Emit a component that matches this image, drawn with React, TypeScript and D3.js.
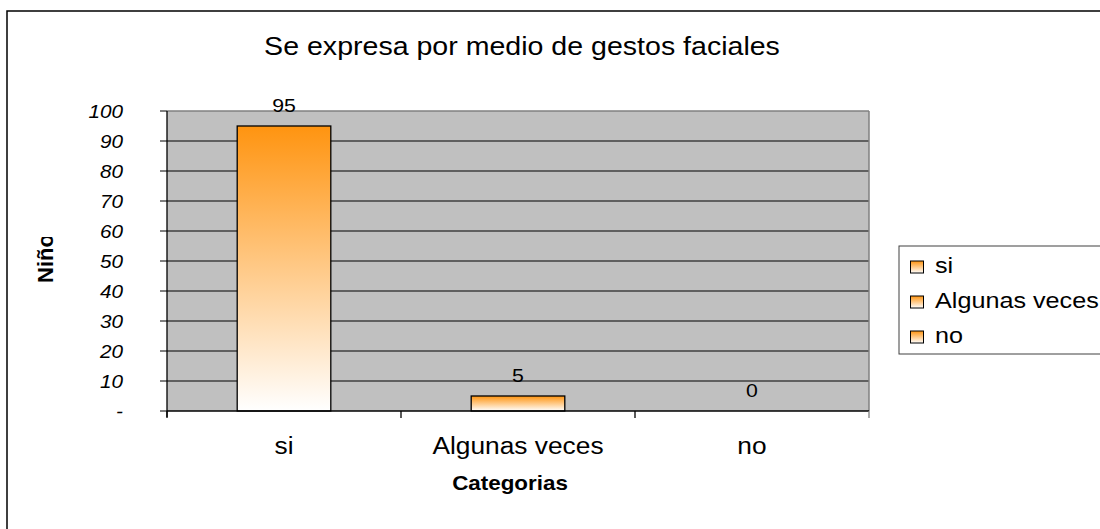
import React from "react";
import * as d3 from "d3";

const categories = ["si", "Algunas veces", "no"];
const values = [95, 5, 0];
const yTicks = [0, 10, 20, 30, 40, 50, 60, 70, 80, 90, 100];
const legendLabels = ["si", "Algunas veces", "no"];
const title = "Se expresa por medio de gestos faciales";
const xTitle = "Categorias";
const yTitle = "Niños";

const SX = 1.12;

function T(props: { x: number; y: number; anchor?: string; size: number; bold?: boolean; italic?: boolean; children: any }) {
  const { x, y, anchor = "start", size, bold, italic, children } = props;
  return (
    <text transform={`translate(${x},${y}) scale(${SX},1)`} textAnchor={anchor} fontSize={size}
      fontWeight={bold ? "bold" : "normal"} fontStyle={italic ? "italic" : "normal"} fill="#000">
      {children}
    </text>
  );
}

export default function App() {
  const W = 1100, H = 529;
  const left = 167, right = 869, top = 111, bottom = 411;
  const x = d3.scaleBand<string>().domain(categories).range([left, right]).paddingInner(0).paddingOuter(0);
  const y = d3.scaleLinear().domain([0, 100]).range([bottom, top]);
  const bw = x.bandwidth() * 0.4;
  const font = "'Liberation Sans', Arial, sans-serif";
  const fmt = (v: number) => (v === 0 ? "-" : String(v));
  return (
    <div style={{ position: "fixed", left: 0, top: 0, width: W, height: H, overflow: "hidden" }}>
      <style>{"html,body{margin:0;padding:0;overflow:hidden;}"}</style>
      <svg width={W} height={H} style={{ display: "block" }} fontFamily={font}>
        <defs>
          <linearGradient id="barg" x1="0" y1="0" x2="0" y2="1">
            <stop offset="0%" stopColor="#FF9410" />
            <stop offset="100%" stopColor="#FFFFFF" />
          </linearGradient>
          <clipPath id="ytclip">
            <rect x={0} y={237} width={100} height={100} />
          </clipPath>
        </defs>
        <rect x={0} y={0} width={W} height={H} fill="#fff" />
        <path d={`M${W + 5},11 H7 V${H + 5}`} fill="none" stroke="#000" strokeWidth={1.5} />
        <T x={522} y={55} anchor="middle" size={25.5}>{title}</T>
        {/* plot area */}
        <rect x={left} y={top} width={right - left} height={bottom - top} fill="#C0C0C0" />
        {yTicks.filter(t => t > 0 && t < 100).map(t => (
          <line key={t} x1={left} x2={right} y1={y(t)} y2={y(t)} stroke="#000" strokeWidth={1} />
        ))}
        <line x1={left} x2={right} y1={y(100)} y2={y(100)} stroke="#808080" strokeWidth={1.5} />
        <line x1={right} x2={right} y1={top} y2={bottom} stroke="#808080" strokeWidth={1.5} />
        {/* bars */}
        {categories.map((c, i) => (
          values[i] > 0 ? (
            <rect key={c} x={(x(c) as number) + (x.bandwidth() - bw) / 2} y={y(values[i])}
              width={bw} height={bottom - y(values[i])} fill="url(#barg)" stroke="#000" strokeWidth={1.3} />
          ) : null
        ))}
        {categories.map((c, i) => (
          <T key={c} x={(x(c) as number) + x.bandwidth() / 2} y={y(values[i]) - 14} anchor="middle" size={19}>{values[i]}</T>
        ))}
        {/* y axis */}
        <line x1={left} x2={left} y1={top} y2={bottom + 6} stroke="#000" strokeWidth={1.3} />
        {yTicks.map(t => (
          <g key={t}>
            <line x1={left - 7} x2={left} y1={y(t)} y2={y(t)} stroke="#000" strokeWidth={1} />
            <T x={123} y={y(t) + 6.5} anchor="end" size={18.5} italic>{fmt(t)}</T>
          </g>
        ))}
        {/* x axis */}
        <line x1={left} x2={right} y1={bottom} y2={bottom} stroke="#000" strokeWidth={1.3} />
        {[...categories.map(c => x(c) as number), right].map((px, i) => (
          <line key={i} x1={px} x2={px} y1={bottom} y2={bottom + 7} stroke={i === 3 ? "#808080" : "#000"} strokeWidth={1.3} />
        ))}
        {categories.map(c => (
          <T key={c} x={(x(c) as number) + x.bandwidth() / 2} y={454} anchor="middle" size={23.5}>{c}</T>
        ))}
        <T x={510} y={490} anchor="middle" size={20} bold>{xTitle}</T>
        <g clipPath="url(#ytclip)">
          <text transform="translate(53,283) rotate(-90)" fontSize={22} fontWeight="bold">{yTitle}</text>
        </g>
        {/* legend */}
        <rect x={899} y={246} width={230} height={108} fill="#fff" stroke="#404040" strokeWidth={1} />
        {legendLabels.map((l, i) => {
          const base = 273 + i * 35;
          return (
            <g key={l}>
              <rect x={910.5} y={base - 12} width={13} height={12} fill="url(#barg)" stroke="#000" strokeWidth={1} />
              <T x={935} y={base} size={22.5}>{l}</T>
            </g>
          );
        })}
      </svg>
    </div>
  );
}
